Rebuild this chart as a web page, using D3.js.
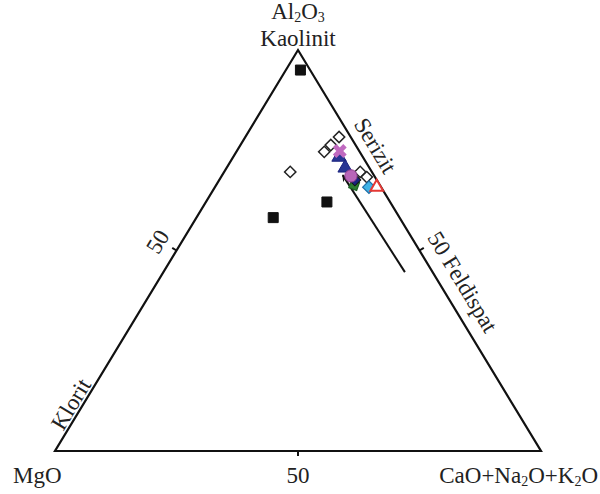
<!DOCTYPE html>
<html>
<head>
<meta charset="utf-8">
<script src="https://cdn.jsdelivr.net/npm/d3@7"></script>
<style>
  html, body { margin: 0; padding: 0; background: #fff; }
  svg { display: block; }
  text { font-family: "Liberation Serif", "Times New Roman", serif; fill: #222; }
</style>
</head>
<body>
<svg id="chart" width="600" height="494"></svg>
<script>
// Compositions in percent: [Al2O3, MgO, CaO+Na2O+K2O]
const blackSquares = [[95, 2, 3], [58.2, 26, 15.8], [62.1, 13, 24.9]];
const openDiamonds = [[69.6, 16.8, 13.6], [78.3, 2.4, 19.3], [76.3, 5.1, 18.6], [74.6, 7.3, 18.1], [69.6, 2.4, 28.0], [68.3, 1.7, 30.0]];
const navyTriangles = [[73.3, 4.9, 21.8], [70.6, 5.0, 24.4]];
const navyDiamond = [[67.6, 4.5, 27.9]];
const greenSquare = [[66.3, 5.3, 28.4]];
const magentaCircle = [[68.6, 4.8, 26.6]];
const magentaCross = [[74.8, 4.0, 21.2]];
const cyanDiamond = [[65.8, 2.5, 31.7]];
const redTriangle = [[65.8, 0.9, 33.3]];
const trendArrow = [[44.6, 5.7, 49.7], [68.8, 6.4, 24.8]];

// label pieces: [text, isSubscript]
const topFormula = [["Al", false], ["2", true], ["O", false], ["3", true]];
const topMineral = "Kaolinit";
const leftVertex = "MgO";
const rightFormula = [["CaO+Na", false], ["2", true], ["O+K", false], ["2", true], ["O", false]];
const sideLabels = { left: "Klorit", rightUpper: "Serizit", rightLower: "50 Feldispat" };
const tickLabel = "50";

const svg = d3.select("#chart");

// Triangle frame: base from MgO (left) to alkalis (right), Al2O3 at apex
const baseY = 451, apexY = 50, leftX = 55, rightX = 541;
const xScale = d3.scaleLinear().domain([0, 100]).range([leftX, rightX]);
const yScale = d3.scaleLinear().domain([0, 100]).range([baseY, apexY]);

// ternary -> screen
function project([al, mg, alk]) {
  const s = al + mg + alk;
  const a = al / s * 100, c = alk / s * 100;
  return [xScale(c + a / 2), yScale(a)];
}

const L = project([0, 100, 0]), R = project([0, 0, 100]), T = project([100, 0, 0]);

svg.append("path")
  .attr("d", d3.line()([L, R, T, L]) + "Z")
  .attr("fill", "none").attr("stroke", "#111").attr("stroke-width", 2.2)
  .attr("stroke-linejoin", "miter");

// direction, outward normal and angle of a side
function sideGeom(P, Q) {
  const dx = Q[0] - P[0], dy = Q[1] - P[1];
  const len = Math.hypot(dx, dy);
  const u = [dx / len, dy / len];
  const n = [u[1], -u[0]];
  return { u, n, len, angle: Math.atan2(dy, dx) * 180 / Math.PI };
}
const leftSide = sideGeom(L, T);
const rightSide = sideGeom(T, R);

// 50% ticks
const tickLen = 5;
const ticks = [
  { p: project([50, 50, 0]), n: leftSide.n },
  { p: project([50, 0, 50]), n: rightSide.n },
  { p: project([0, 50, 50]), n: [0, 1] }
];
svg.selectAll("line.tick").data(ticks).join("line").attr("class", "tick")
  .attr("x1", d => d.p[0]).attr("y1", d => d.p[1])
  .attr("x2", d => d.p[0] + d.n[0] * tickLen).attr("y2", d => d.p[1] + d.n[1] * tickLen)
  .attr("stroke", "#111").attr("stroke-width", 2);

// trend line with arrow head
const a0 = project(trendArrow[0]), a1 = project(trendArrow[1]);
svg.append("defs").append("marker")
  .attr("id", "arrowhead").attr("viewBox", "0 0 10 10")
  .attr("refX", 9).attr("refY", 5)
  .attr("markerWidth", 8).attr("markerHeight", 7)
  .attr("markerUnits", "userSpaceOnUse")
  .attr("orient", "auto")
  .append("path").attr("d", "M0,0 L10,5 L0,10 L3,5 Z").attr("fill", "#111");
svg.append("line")
  .attr("x1", a0[0]).attr("y1", a0[1]).attr("x2", a1[0]).attr("y2", a1[1])
  .attr("stroke", "#111").attr("stroke-width", 2)
  .attr("marker-end", "url(#arrowhead)");

const sym = (type, size) => d3.symbol().type(type).size(size)();
function drawPoints(data, type, size, fill, stroke, sw, rot = 0) {
  svg.append("g").selectAll("path").data(data).join("path")
    .attr("transform", d => { const p = project(d); return `translate(${p[0]},${p[1]}) rotate(${rot})`; })
    .attr("d", sym(type, size))
    .attr("fill", fill).attr("stroke", stroke).attr("stroke-width", sw);
}

drawPoints(blackSquares, d3.symbolSquare, 100, "#111", "#111", 1);
drawPoints(openDiamonds, d3.symbolSquare, 64, "#fff", "#222", 1.5, 45);
drawPoints(greenSquare, d3.symbolSquare, 70, "#2e7d32", "#1b5e20", 1.2, 20);
drawPoints(navyDiamond, d3.symbolSquare, 70, "#1a237e", "#111", 1, 45);
drawPoints(navyTriangles, d3.symbolTriangle, 90, "#283593", "#1a237e", 1);
drawPoints(magentaCircle, d3.symbolCircle, 120, "#b865b8", "#8e3f8e", 1);
drawPoints(magentaCross, d3.symbolCross, 120, "#c06ac0", "none", 0, 45);
drawPoints(cyanDiamond, d3.symbolSquare, 80, "#3fb3e6", "#1e6fa8", 1.2, 45);
drawPoints(redTriangle, d3.symbolTriangle, 70, "#fff", "#e53935", 2);

// labels
const fs = 23, subFs = 14, subShift = 3;
function formulaText(sel, pieces) {
  let shifted = false;
  pieces.forEach(([s, sub]) => {
    const t = sel.append("tspan").text(s);
    if (sub) { t.attr("font-size", subFs).attr("dy", subShift); shifted = true; }
    else if (shifted) { t.attr("dy", -subShift); shifted = false; }
  });
  return sel;
}
formulaText(svg.append("text").attr("x", T[0]).attr("y", 19).attr("text-anchor", "middle")
  .attr("font-size", fs), topFormula);
svg.append("text").attr("x", T[0]).attr("y", 46).attr("text-anchor", "middle")
  .attr("font-size", fs).text(topMineral);

svg.append("text").attr("x", 13).attr("y", 483).attr("font-size", fs).text(leftVertex);
formulaText(svg.append("text").attr("x", 598).attr("y", 483).attr("text-anchor", "end")
  .attr("font-size", fs), rightFormula);

svg.append("text").attr("x", ticks[2].p[0]).attr("y", 483).attr("text-anchor", "middle")
  .attr("font-size", fs).text(tickLabel);

// labels along sides
function sideText(P, side, t, offset, str) {
  const x = P[0] + side.u[0] * side.len * t + side.n[0] * offset;
  const y = P[1] + side.u[1] * side.len * t + side.n[1] * offset;
  let ang = side.angle;
  if (ang > 90) ang -= 180;
  if (ang < -90) ang += 180;
  svg.append("text")
    .attr("transform", `translate(${x},${y}) rotate(${ang})`)
    .attr("text-anchor", "middle").attr("font-size", fs).text(str);
}
sideText(L, leftSide, 0.103, 3, sideLabels.left);
sideText(L, leftSide, 0.495, 13, tickLabel);
sideText(T, rightSide, 0.26, 9, sideLabels.rightUpper);
sideText(T, rightSide, 0.605, 13, sideLabels.rightLower);
</script>
</body>
</html>
